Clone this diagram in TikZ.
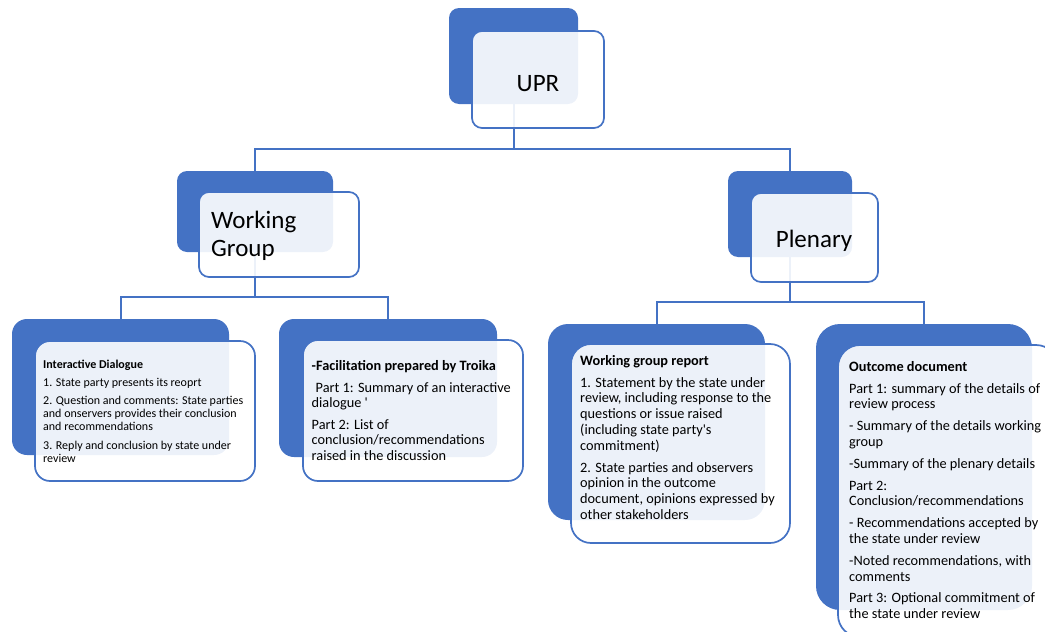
\documentclass[tikz,border=0pt]{standalone}
\usepackage{fontspec}
\setmainfont{Carlito}
\definecolor{ublue}{HTML}{4472C4}
\tikzset{
 backbox/.style={fill=ublue, draw=none, inner sep=0pt, outer sep=0pt},
 frontbox/.style={draw=ublue, line width=1.7pt, fill=white, fill opacity=0.9, inner sep=0pt, outer sep=0pt},
 conn/.style={draw=ublue, line width=2pt, line join=miter},
 bigtext/.style={font=\fontsize{25}{27.4}\selectfont, inner sep=0pt, text=black},
 smalltext/.style={font=\fontsize{14.3}{15.8}\selectfont, inner sep=0pt, align=left, anchor=north west, text=black},
 tinytext/.style={font=\fontsize{12}{13.2}\selectfont, inner sep=0pt, align=left, anchor=north west, text=black},
}
\begin{document}
\begin{tikzpicture}[x=1pt,y=-1pt]
\useasboundingbox (0,0) rectangle (1045,632);
\clip (0,0) rectangle (1045,632);
% back boxes
\node[backbox, rounded corners=10pt, minimum width=129pt, minimum height=96pt] (uprb) at (513.5,56) {};
\node[backbox, rounded corners=10pt, minimum width=156pt, minimum height=81pt] (wgb) at (255,211.5) {};
\node[backbox, rounded corners=10pt, minimum width=124pt, minimum height=86pt] (plb) at (790,214) {};
\node[backbox, rounded corners=15pt, minimum width=217pt, minimum height=136pt] (b1b) at (120.5,387) {};
\node[backbox, rounded corners=15pt, minimum width=218pt, minimum height=138pt] (b2b) at (388,388) {};
\node[backbox, rounded corners=20pt, minimum width=217pt, minimum height=196pt] (b3b) at (656.5,422) {};
\node[backbox, rounded corners=24pt, minimum width=216pt, minimum height=286pt] (b4b) at (924,467) {};
% connectors
\draw[conn] (uprb.south) -- ++(0,45) -| (wgb.north);
\draw[conn] (uprb.south) -- ++(0,45) -| (plb.north);
\draw[conn] (wgb.south) -- ++(0,45) -| (b1b.north);
\draw[conn] (wgb.south) -- ++(0,45) -| (b2b.north);
\draw[conn] (plb.south) -- ++(0,45) -| (b3b.north);
\draw[conn] (plb.south) -- ++(0,45) -| (b4b.north);
% front boxes
\node[frontbox, rounded corners=10pt, minimum width=132pt, minimum height=97pt] (uprf) at (538,79.5) {};
\node[frontbox, rounded corners=10pt, minimum width=160pt, minimum height=85pt] (wgf) at (279,234.5) {};
\node[frontbox, rounded corners=10pt, minimum width=127pt, minimum height=89pt] (plf) at (814.5,237.5) {};
\node[frontbox, rounded corners=15pt, minimum width=220pt, minimum height=140pt] (b1f) at (145,411) {};
\node[frontbox, rounded corners=15pt, minimum width=220pt, minimum height=141pt] (b2f) at (413,410.5) {};
\node[frontbox, rounded corners=20pt, minimum width=219pt, minimum height=199pt] (b3f) at (680.5,443.5) {};
\node[frontbox, rounded corners=22pt, minimum width=220pt, minimum height=292pt] (b4f) at (948,491) {};
% texts
\node[bigtext, anchor=base] (uprt) at (538,91) {UPR};
\node[bigtext, anchor=west, align=left] (wgt) at (211,236) {Working\\Group};
\node[bigtext, anchor=base] (plt) at (814,247.5) {Plenary};
\node[tinytext] (t1) at (43,359.5) {\textbf{Interactive Dialogue}\\[5pt]
1. State party presents its reoprt\\[5pt]
2. Question and comments: State parties\\and onservers provides their conclusion\\and recommendations\\[5pt]
3. Reply and conclusion by state under\\review};
\node[smalltext] (t2) at (311.5,360) {\textbf{-Facilitation prepared by Troika}\\[6pt]
\hspace*{4pt}Part 1: Summary of an interactive\\dialogue \textquotesingle\\[5.5pt]
Part 2: List of\\conclusion/recommendations\\raised in the discussion};
\node[smalltext] (t3) at (580,355) {\textbf{Working group report}\\[6pt]
1. Statement by the state under\\review, including response to the\\questions or issue raised\\(including state party\textquotesingle s\\commitment)\\[6pt]
2. State parties and observers\\opinion in the outcome\\document, opinions expressed by\\other stakeholders};
\node[smalltext] (t4) at (849,361) {\textbf{Outcome document}\\[6pt]
Part 1: summary of the details of\\review process\\[6pt]
- Summary of the details working\\group\\[6pt]
-Summary of the plenary details\\[6pt]
Part 2:\\Conclusion/recommendations\\[6pt]
- Recommendations accepted by\\the state under review\\[6pt]
-Noted recommendations, with\\comments\\[6pt]
Part 3: Optional commitment of\\the state under review};
\end{tikzpicture}
\end{document}
